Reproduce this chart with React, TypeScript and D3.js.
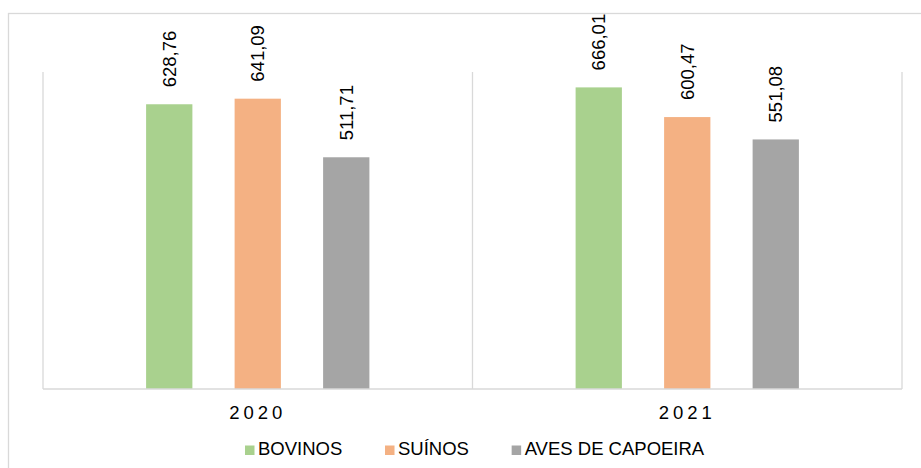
import React, { useEffect, useRef } from "react";
import * as d3 from "d3";

const years = ["2020", "2021"];
const series = ["BOVINOS", "SUÍNOS", "AVES DE CAPOEIRA"];
const bovinos = [628.76, 666.01];
const suinos = [641.09, 600.47];
const aves = [511.71, 551.08];
const colors = ["#A9D18E", "#F4B183", "#A5A5A5"];
const yMax = 700;

const fmt = (v: number) => v.toFixed(2).replace(".", ",");

export default function App() {
  const ref = useRef<SVGSVGElement | null>(null);

  useEffect(() => {
    const svg = d3.select(ref.current);
    svg.selectAll("*").remove();
    const left = 43, right = 902, top = 72, bottom = 389;
    const font = "'Liberation Sans', Arial, sans-serif";
    const fs = 18.5;
    const values = [bovinos, suinos, aves];

    // outer chart border
    svg.append("rect")
      .attr("x", 8.5).attr("y", 13.5)
      .attr("width", 1000).attr("height", 1000)
      .attr("fill", "#fff").attr("stroke", "#D9D9D9").attr("stroke-width", 1.3);

    const x0 = d3.scaleBand<string>().domain(years).range([left, right]).padding(0);
    const x1 = d3.scaleBand<string>().domain(series).range([0, x0.bandwidth()])
      .paddingInner(0.477).paddingOuter(1.165);
    const y = d3.scaleLinear().domain([0, yMax]).range([bottom, top]);

    // vertical gridlines at category boundaries
    const bounds = [left, ...years.map((yr) => (x0(yr) as number) + x0.bandwidth())];
    svg.append("g").selectAll("line").data(bounds).join("line")
      .attr("x1", (d) => d).attr("x2", (d) => d)
      .attr("y1", y(yMax)).attr("y2", y(0))
      .attr("stroke", "#D9D9D9").attr("stroke-width", 1.3);

    // bars
    const g = svg.append("g");
    years.forEach((yr, i) => {
      series.forEach((s, j) => {
        const v = values[j][i];
        const bx = (x0(yr) as number) + (x1(s) as number);
        g.append("rect")
          .attr("x", bx).attr("y", y(v))
          .attr("width", x1.bandwidth()).attr("height", y(0) - y(v))
          .attr("fill", colors[j]);
        const cx = bx + x1.bandwidth() / 2;
        const ty = y(v) - 17;
        g.append("text")
          .attr("transform", `translate(${cx},${ty}) rotate(-90)`)
          .attr("dy", "0.35em")
          .attr("text-anchor", "start")
          .attr("font-family", font).attr("font-size", fs)
          .attr("fill", "#000")
          .text(fmt(v));
      });
    });

    // axis line
    svg.append("line")
      .attr("x1", left).attr("x2", right)
      .attr("y1", y(0)).attr("y2", y(0))
      .attr("stroke", "#D9D9D9").attr("stroke-width", 1.3);

    // category labels
    svg.append("g").selectAll("text").data(years).join("text")
      .attr("x", (d) => (x0(d) as number) + x0.bandwidth() / 2)
      .attr("y", 418.5)
      .attr("text-anchor", "middle")
      .attr("font-family", font).attr("font-size", fs)
      .attr("letter-spacing", 4)
      .attr("fill", "#000")
      .text((d) => d);

    // legend
    const lg = svg.append("g");
    let lx = 245;
    series.forEach((s, j) => {
      lg.append("rect")
        .attr("x", lx).attr("y", 445.5)
        .attr("width", 9.5).attr("height", 9.5)
        .attr("fill", colors[j]);
      const t = lg.append("text")
        .attr("x", lx + 13).attr("y", 455)
        .attr("font-family", font).attr("font-size", fs)
        .attr("fill", "#000")
        .text(s);
      const w = (t.node() as SVGTextElement).getComputedTextLength();
      lx = lx + 13 + w + 42.7;
    });
  }, []);

  return (
    <svg
      ref={ref}
      width={921}
      height={468}
      style={{ position: "absolute", left: 0, top: 0, background: "#fff" }}
    />
  );
}
